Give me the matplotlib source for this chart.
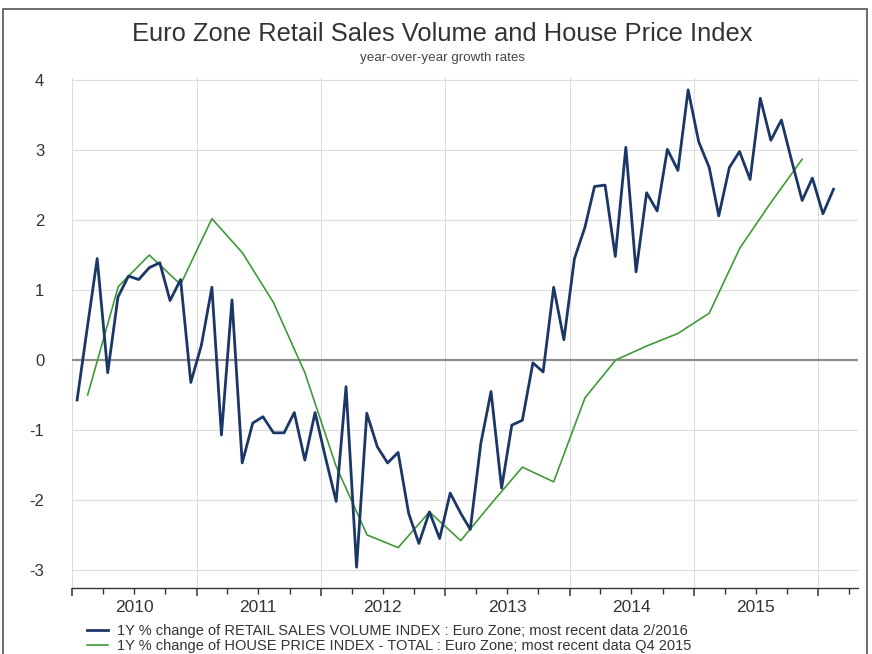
import numpy as np
import pandas as pd
import matplotlib
matplotlib.use("Agg")
import matplotlib.pyplot as plt
import matplotlib.dates as mdates
from matplotlib.ticker import FuncFormatter
from matplotlib.patches import Rectangle

plt.rcParams['font.family'] = ['Liberation Sans', 'DejaVu Sans']
plt.rcParams['axes.unicode_minus'] = False

# monthly retail sales volume, y/y %, Jan 2010 .. Feb 2016
retail = [-0.57, 0.50, 1.45, -0.18, 0.90, 1.20, 1.15, 1.32, 1.39, 0.85,
          1.15, -0.32, 0.21, 1.04, -1.07, 0.86, -1.47, -0.90, -0.81, -1.04,
          -1.04, -0.75, -1.43, -0.75, -1.40, -2.02, -0.38, -2.96, -0.76, -1.24,
          -1.47, -1.32, -2.19, -2.62, -2.17, -2.55, -1.90, -2.19, -2.42, -1.19,
          -0.45, -1.83, -0.93, -0.86, -0.04, -0.17, 1.04, 0.29, 1.45, 1.90,
          2.48, 2.50, 1.48, 3.04, 1.26, 2.39, 2.13, 3.01, 2.71, 3.86,
          3.12, 2.75, 2.06, 2.75, 2.98, 2.58, 3.74, 3.14, 3.43, 2.85,
          2.28, 2.60, 2.09, 2.44]

# quarterly house price index, y/y %, Q1 2010 .. Q4 2015
house = [-0.50, 1.05, 1.50, 1.08, 2.02, 1.53, 0.82, -0.18,
         -1.52, -2.50, -2.68, -2.17, -2.58, -2.05, -1.53, -1.74,
         -0.54, 0.00, 0.20, 0.38, 0.67, 1.60, 2.25, 2.87]

years = [2010, 2011, 2012, 2013, 2014, 2015, 2016]
yticks = [-3, -2, -1, 0, 1, 2, 3, 4]

title = "Euro Zone Retail Sales Volume and House Price Index"
subtitle = "year-over-year growth rates"
lbl_retail = "1Y % change of RETAIL SALES VOLUME INDEX : Euro Zone; most recent data 2/2016"
lbl_house = "1Y % change of HOUSE PRICE INDEX - TOTAL : Euro Zone; most recent data Q4 2015"

months = pd.date_range("2010-01-01", periods=len(retail), freq="MS") + pd.Timedelta(days=14)
quarters = pd.date_range("2010-01-01", periods=len(house), freq="QS") + pd.Timedelta(days=45)

fig = plt.figure(figsize=(8.72, 6.54), dpi=100)
ax = fig.add_axes([72/872, 1-588/654, (858-72)/872, (588-78)/654])

# grid
for yv in yticks:
    ax.axhline(yv, color='#dcdcdc', lw=0.8, zorder=0)
for yr in years:
    ax.axvline(pd.Timestamp(f"{yr}-01-01"), color='#dcdcdc', lw=0.8, zorder=0)
ax.axhline(0, color='#8c8c8c', lw=1.6, zorder=1)

ax.plot(months, retail, color='#1b3768', lw=2.0, label=lbl_retail, zorder=3)
ax.plot(quarters, house, color='#3f9a35', lw=1.2, label=lbl_house, zorder=2)

ax.set_ylim(-3.257, 4.03)
ax.set_xlim(pd.Timestamp("2009-12-31"), pd.Timestamp("2016-04-27"))
ax.set_yticks(yticks)
ax.tick_params(axis='y', length=0, pad=20, labelsize=12, labelcolor='#333333')

ax.xaxis.set_major_locator(mdates.YearLocator())
ax.xaxis.set_major_formatter(FuncFormatter(lambda v, p: ""))
ax.xaxis.set_minor_locator(mdates.MonthLocator(bymonth=[4, 7, 10]))
ax.xaxis.set_minor_formatter(FuncFormatter(
    lambda v, p: str(mdates.num2date(v).year) if mdates.num2date(v).month == 7 else ""))
ax.tick_params(axis='x', which='major', length=6, width=1.1, color='#333333')
ax.tick_params(axis='x', which='minor', length=4, width=1.0, color='#333333',
               pad=5, labelsize=12.5, labelcolor='#333333')

for s in ['left', 'top', 'right']:
    ax.spines[s].set_visible(False)
ax.spines['bottom'].set_color('#333333')
ax.spines['bottom'].set_linewidth(1.0)

fig.text(0.507, 1-34/654, title, ha='center', va='center', fontsize=18.4, color='#333333')
fig.text(0.507, 1-58/654, subtitle, ha='center', va='center', fontsize=9.6, color='#444444')

# size legend text so the first line is about 572 px wide, like the source
fs = 9.8
r = fig.canvas.get_renderer()
probe = fig.text(0, 0, lbl_retail, fontsize=fs)
w = probe.get_window_extent(renderer=r).width
probe.remove()
fs = fs * 572 / w

fig.legend(loc='upper left', bbox_to_anchor=(87/872, 1-624/654), frameon=False,
           fontsize=fs, handlelength=1.4, handletextpad=0.65, labelspacing=0.05,
           borderpad=0, borderaxespad=0, labelcolor='#333333')

fig.patches.append(Rectangle((3/872, -0.02), 864/872, 1.02-8.5/654, transform=fig.transFigure,
                             fill=False, edgecolor='#555555', lw=1.2))

fig.savefig("out.png", dpi=100)
